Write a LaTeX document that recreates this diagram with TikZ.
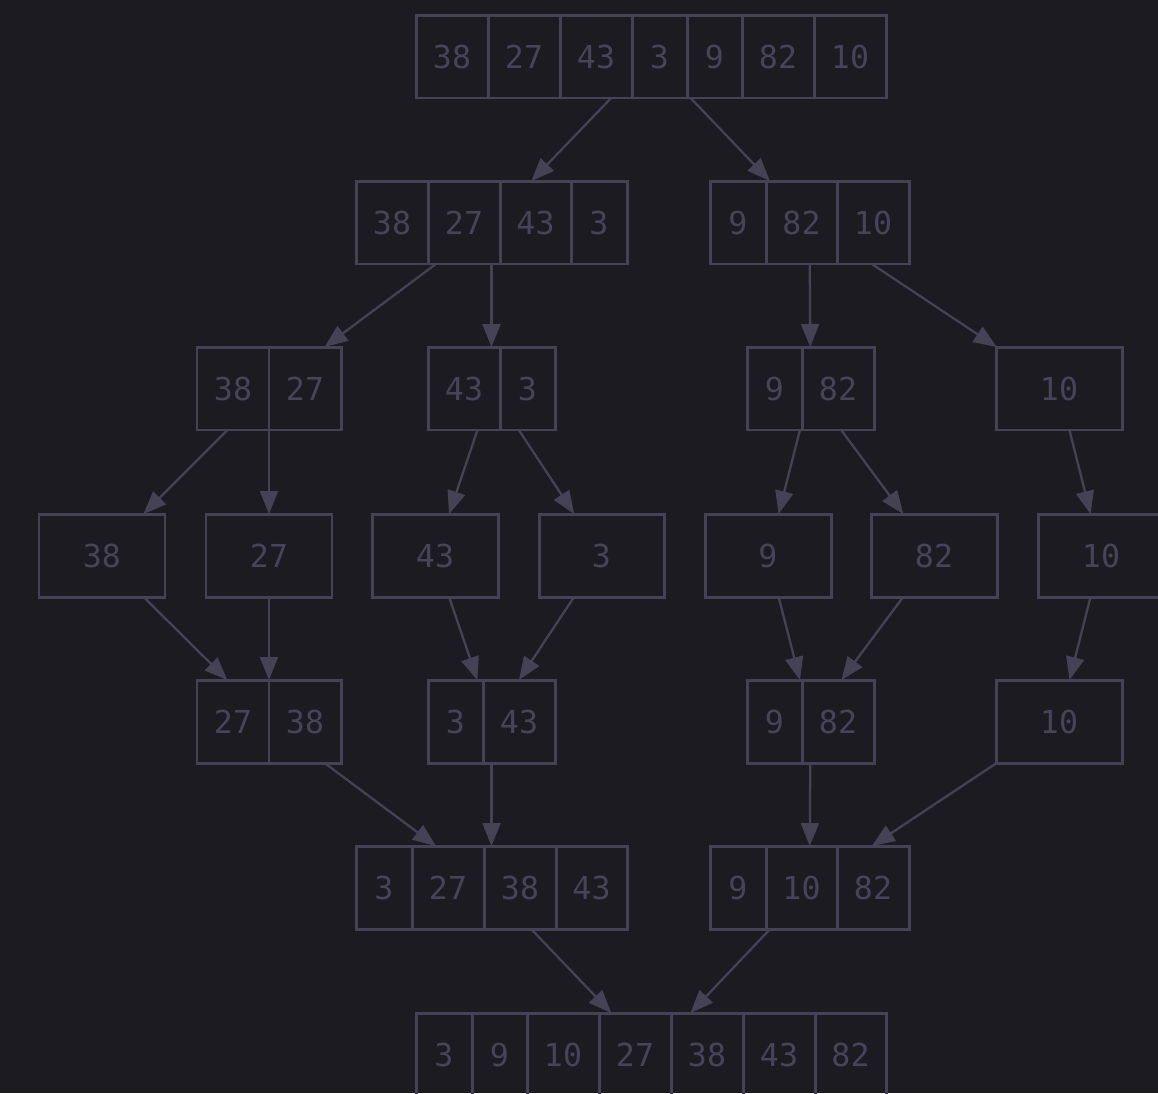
\documentclass[tikz,border=0pt]{standalone}
\usepackage{fontspec}
\setmonofont{DejaVu Sans Mono}
\usetikzlibrary{arrows.meta,fit}
\definecolor{bgdark}{RGB}{28,27,33}
\definecolor{linegray}{RGB}{68,66,84}
\definecolor{textgray}{RGB}{70,68,88}

\begin{document}
\begin{tikzpicture}[
  x=0.02cm,
  y=-0.02cm,
  cell/.style={
    draw=linegray,
    line width=1.7pt,
    rectangle,
    outer sep=0pt,
    inner sep=0pt,
    minimum height=1.66cm,
    text=textgray,
    font=\ttfamily\fontsize{18}{18}\selectfont
  },
  frame/.style={
    rectangle,
    inner sep=0pt,
    outer sep=0pt
  },
  link/.style={
    draw=linegray,
    line width=1.3pt,
    -{Triangle[length=0.46cm,width=0.36cm]}
  }
]

\def\cellh{83}

% page and background
\fill[bgdark] (0,0) rectangle (1158,1093);
\useasboundingbox (0,0) rectangle (1158,1093);

% cells: text / left / right / top
\foreach \txt/\xa/\xb/\yt in {
  38/416/488/15, 27/488/560/15, 43/560/632/15, 3/632/687/15,
  9/687/742/15, 82/742/814/15, 10/814/886/15,
  38/356/428/181, 27/428/500/181, 43/500/571/181, 3/571/627/181,
  9/710/766/181, 82/766/837/181, 10/837/909/181,
  38/197/269/347, 27/269/341/347, 43/428/500/347, 3/500/555/347,
  9/747/802/347, 82/802/874/347, 10/996/1122/347,
  38/39/165/514, 27/206/332/514, 43/372/498/514, 3/539/664/514,
  9/705/831/514, 82/871/997/514, 10/1038/1164/514,
  27/197/269/680, 38/269/341/680, 3/428/483/680, 43/483/555/680,
  9/747/802/680, 82/802/874/680, 10/996/1122/680,
  3/356/412/846, 27/412/484/846, 38/484/556/846, 43/556/627/846,
  9/710/766/846, 10/766/837/846, 82/837/909/846,
  3/416/472/1013, 9/472/527/1013, 10/527/599/1013, 27/599/671/1013,
  38/671/743/1013, 43/743/815/1013, 82/815/886/1013
}{
  \node[cell, minimum width={(\xb-\xa)*0.02cm}]
    at ({(\xa+\xb)/2},{\yt+\cellh/2}) {\txt};
}

% whole arrays: name / left / right / top
\foreach \boxname/\xmin/\xmax/\ytop in {
  s0/416/886/15,
  s1a/356/627/181, s1b/710/909/181,
  s2a/197/341/347, s2b/428/555/347, s2c/747/874/347, s2d/996/1122/347,
  leaf1/39/165/514, leaf2/206/332/514, leaf3/372/498/514,
  leaf4/539/664/514, leaf5/705/831/514, leaf6/871/997/514,
  leaf7/1038/1164/514,
  m1a/197/341/680, m1b/428/555/680, m1c/747/874/680, m1d/996/1122/680,
  m2a/356/627/846, m2b/710/909/846,
  m3/416/886/1013
}{
  \coordinate (\boxname-nw) at (\xmin,\ytop);
  \coordinate (\boxname-se) at (\xmax,\ytop+\cellh);
  \node[frame, fit=(\boxname-nw)(\boxname-se)] (\boxname) {};
}

% split
\draw[link] (s0) -- (s1a);
\draw[link] (s0) -- (s1b);
\draw[link] (s1a) -- (s2a);
\draw[link] (s1a) -- (s2b);
\draw[link] (s1b) -- (s2c);
\draw[link] (s1b) -- (s2d);
\draw[link] (s2a) -- (leaf1);
\draw[link] (s2a) -- (leaf2);
\draw[link] (s2b) -- (leaf3);
\draw[link] (s2b) -- (leaf4);
\draw[link] (s2c) -- (leaf5);
\draw[link] (s2c) -- (leaf6);
\draw[link] (s2d) -- (leaf7);

% merge
\draw[link] (leaf1) -- (m1a);
\draw[link] (leaf2) -- (m1a);
\draw[link] (leaf3) -- (m1b);
\draw[link] (leaf4) -- (m1b);
\draw[link] (leaf5) -- (m1c);
\draw[link] (leaf6) -- (m1c);
\draw[link] (leaf7) -- (m1d);
\draw[link] (m1a) -- (m2a);
\draw[link] (m1b) -- (m2a);
\draw[link] (m1c) -- (m2b);
\draw[link] (m1d) -- (m2b);
\draw[link] (m2a) -- (m3);
\draw[link] (m2b) -- (m3);

\end{tikzpicture}
\end{document}
